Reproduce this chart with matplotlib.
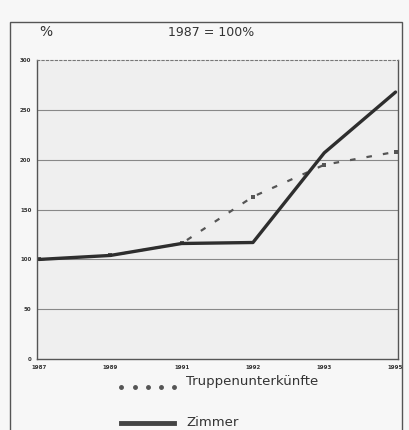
import matplotlib.pyplot as plt
from matplotlib.patches import Rectangle
import numpy as np

years = ["1987", "1989", "1991", "1992", "1993", "1995"]
zimmer = [100, 104, 116, 117, 207, 268]
truppen = [100, 104, 116, 163, 195, 208]
yticks = [0, 50, 100, 150, 200, 250, 300]

fig = plt.figure(figsize=(4.1, 4.3), dpi=100)
fig.patch.set_facecolor("#f7f7f7")
fig.patches.append(Rectangle((0.025, -0.05), 0.955, 1.0, transform=fig.transFigure,
                             fill=False, edgecolor="#555555", linewidth=1.0))

ax = fig.add_axes([0.09, 0.165, 0.88, 0.695])
ax.set_facecolor("#efefef")
x = np.arange(len(years))

ax.plot(x, truppen, color="#555555", linestyle=(0, (2.5, 5)), linewidth=1.6,
        marker="s", markersize=3, markerfacecolor="#555555", markeredgewidth=0)
ax.plot(x, zimmer, color="#2e2e2e", linewidth=2.4, solid_capstyle="round")

ax.set_xlim(-0.03, len(years) - 1 + 0.03)
ax.set_ylim(0, 300)
ax.set_xticks(x)
ax.set_xticklabels(years, fontsize=4, color="#333333", fontweight="bold")
ax.set_yticks(yticks)
ax.set_yticklabels([str(v) for v in yticks], fontsize=4, color="#333333", fontweight="bold")
ax.tick_params(length=0, pad=4)
for v in yticks[1:-1]:
    ax.axhline(v, color="#888888", linewidth=0.8, zorder=0)

for s in ["left", "right", "bottom"]:
    ax.spines[s].set_color("#555555")
    ax.spines[s].set_linewidth(1.0)
ax.spines["top"].set_linestyle((0, (2, 2)))
ax.spines["top"].set_color("#777777")
ax.spines["top"].set_linewidth(0.8)

fig.text(0.095, 0.925, "%", fontsize=10, color="#333333", ha="left", va="center")
fig.text(0.515, 0.925, "1987 = 100%", fontsize=9, color="#333333", ha="center", va="center")

leg_ax = fig.add_axes([0.26, 0.0, 0.72, 0.14])
leg_ax.axis("off")
leg_ax.plot([0.05, 0.095, 0.14, 0.185, 0.23], [0.72] * 5, "o", color="#555555", markersize=2.5)
leg_ax.plot([0.05, 0.23], [0.12, 0.12], color="#444444", linewidth=3.5)
leg_ax.set_xlim(0, 1)
leg_ax.set_ylim(0, 1)
leg_ax.text(0.27, 0.8, "Truppenunterkünfte", fontsize=9.5, color="#333333", va="center")
leg_ax.text(0.27, 0.12, "Zimmer", fontsize=9.5, color="#333333", va="center")

fig.savefig("out.png", dpi=100, facecolor=fig.get_facecolor())
